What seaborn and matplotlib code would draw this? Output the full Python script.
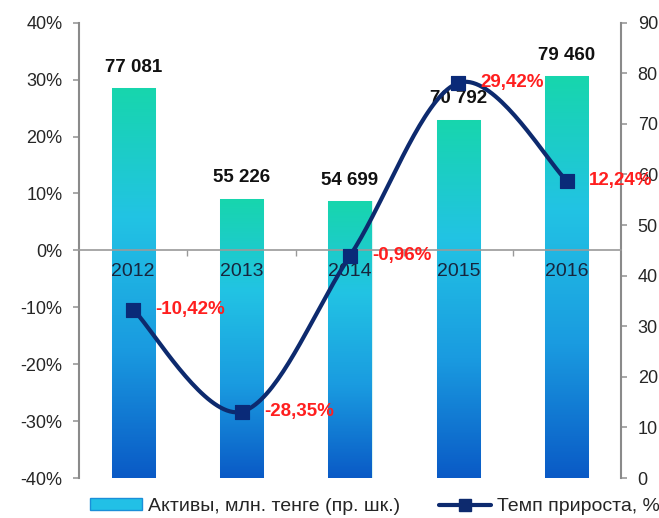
import numpy as np
import pandas as pd
import matplotlib
matplotlib.use("Agg")
import matplotlib.pyplot as plt
import seaborn as sns
from matplotlib.patches import Patch
from matplotlib.lines import Line2D
from matplotlib.colors import LinearSegmentedColormap
from matplotlib.ticker import FuncFormatter, MultipleLocator

years = ["2012", "2013", "2014", "2015", "2016"]
assets = [77081, 55226, 54699, 70792, 79460]
growth = [-10.42, -28.35, -0.96, 29.42, 12.24]
asset_labels = ["77 081", "55 226", "54 699", "70 792", "79 460"]
growth_labels = ["-10,42%", "-28,35%", "-0,96%", "29,42%", "12,24%"]

sns.set_style("white")
plt.rcParams["font.family"] = ["Liberation Sans", "DejaVu Sans"]

df = pd.DataFrame({"year": years, "assets": assets, "growth": growth})

fig = plt.figure(figsize=(6.59, 5.18), dpi=100)
ax = fig.add_axes([0.1199, 0.0772, 0.8224, 0.879])
ax2 = ax.twinx()

# bars on the right axis, behind the line axis
sns.barplot(data=df, x="year", y="assets", ax=ax2, width=0.4,
            color="#22c0e0", edgecolor="none", zorder=1)
ax2.set_ylabel("")
ax2.set_xlabel("")

# vertical gradient inside every bar
grad = LinearSegmentedColormap.from_list(
    "g", ["#0a5ac6", "#1a9be0", "#22c3e4", "#17d6ad"])
for p in ax2.patches:
    x0, y0 = p.get_x(), p.get_y()
    w, h = p.get_width(), p.get_height()
    im = ax2.imshow(np.linspace(0, 1, 256).reshape(-1, 1), cmap=grad,
                    origin="lower", aspect="auto",
                    extent=[x0, x0 + w, y0, y0 + h], zorder=1)
    im.set_clip_path(p)
    p.set_facecolor("none")
    p.set_edgecolor("#d8f4f0")
    p.set_linewidth(0.8)
ax2.set_xlim(-0.5, 4.5)
ax2.set_ylim(0, 90000)

for i, (v, lab) in enumerate(zip(assets, asset_labels)):
    ax2.annotate(lab, (i, v), xytext=(0, 9), textcoords="offset points",
                 ha="center", va="bottom", fontsize=13.5, fontweight="bold",
                 color="#111111", zorder=5)

# right scale shows thousands, as in the cropped original
ax2.yaxis.set_major_locator(MultipleLocator(10000))
ax2.yaxis.set_major_formatter(FuncFormatter(lambda v, _: f"{int(v / 1000)}"))
ax2.tick_params(axis="y", labelsize=13, length=4, width=1.2, color="#999999",
                pad=8, direction="out", right=True)

ax.set_zorder(ax2.get_zorder() + 1)
ax.patch.set_visible(False)

# smoothed growth line (Catmull-Rom through the points)
xs = np.arange(len(growth), dtype=float)
ys = np.array(growth, dtype=float)
px = np.concatenate([[xs[0]], xs, [xs[-1]]])
py = np.concatenate([[ys[0]], ys, [ys[-1]]])
cx, cy = [], []
t = np.linspace(0, 1, 40)
for k in range(1, len(px) - 2):
    for arr, out in ((px, cx), (py, cy)):
        p0, p1, p2, p3 = arr[k - 1], arr[k], arr[k + 1], arr[k + 2]
        out.extend(0.5 * (2 * p1 + (-p0 + p2) * t
                          + (2 * p0 - 5 * p1 + 4 * p2 - p3) * t ** 2
                          + (-p0 + 3 * p1 - 3 * p2 + p3) * t ** 3))
ax.plot(cx, cy, color="#0d2a6e", lw=3, zorder=3, solid_capstyle="round")
sns.scatterplot(x=xs, y=ys, ax=ax, marker="s", s=110, color="#0a2a78",
                edgecolor="#0a2a78", zorder=4, legend=False)

for i, (v, lab) in enumerate(zip(growth, growth_labels)):
    ax.annotate(lab, (i, v), xytext=(16, 0), textcoords="offset points",
                ha="left", va="center", fontsize=13.5, fontweight="bold",
                color="#ff1f1f", zorder=5)

ax.set_xlim(-0.5, 4.5)
ax.set_ylim(-40, 40)
ax.yaxis.set_major_locator(MultipleLocator(10))
ax.yaxis.set_major_formatter(FuncFormatter(lambda v, _: f"{int(v)}%"))
ax.tick_params(axis="y", labelsize=13, length=4, width=1.2, color="#999999",
               pad=8, direction="out", left=True)

# category axis crossing at 0%
ax.spines["bottom"].set_position(("data", 0))
ax.set_xticks(range(len(years)))
ax.set_xticklabels(years)
ax.set_xticks([0.5, 1.5, 2.5, 3.5], minor=True)
ax.tick_params(axis="x", which="major", length=0, labelsize=14,
               labelcolor="#17253d", pad=9)
ax.tick_params(axis="x", which="minor", length=4, width=1, color="#999999",
               direction="out", bottom=True)
for s in ["top", "right"]:
    ax.spines[s].set_visible(False)
for s in ["top", "bottom", "left"]:
    ax2.spines[s].set_visible(False)
ax.spines["bottom"].set_color("#9a9a9a")
ax.spines["bottom"].set_linewidth(1.2)
ax.spines["left"].set_color("#8a8a8a")
ax.spines["left"].set_linewidth(1.5)
ax2.spines["right"].set_color("#8a8a8a")
ax2.spines["right"].set_linewidth(1.5)
ax.set_xlabel("")
ax.set_ylabel("")

handles = [
    Patch(facecolor="#22c0e6", edgecolor="#1a8fd8",
          label="Активы, млн. тенге (пр. шк.)"),
    Line2D([0], [0], color="#0d2a6e", lw=3, marker="s", markersize=9,
           label="Темп прироста, %"),
]
fig.legend(handles=handles, loc="center left", bbox_to_anchor=(0.136, 0.022),
           ncol=2, frameon=False, fontsize=14, columnspacing=2.0,
           handlelength=2.7, handleheight=0.55, handletextpad=0.3,
           borderpad=0, borderaxespad=0)

fig.savefig("out.png", dpi=100)
